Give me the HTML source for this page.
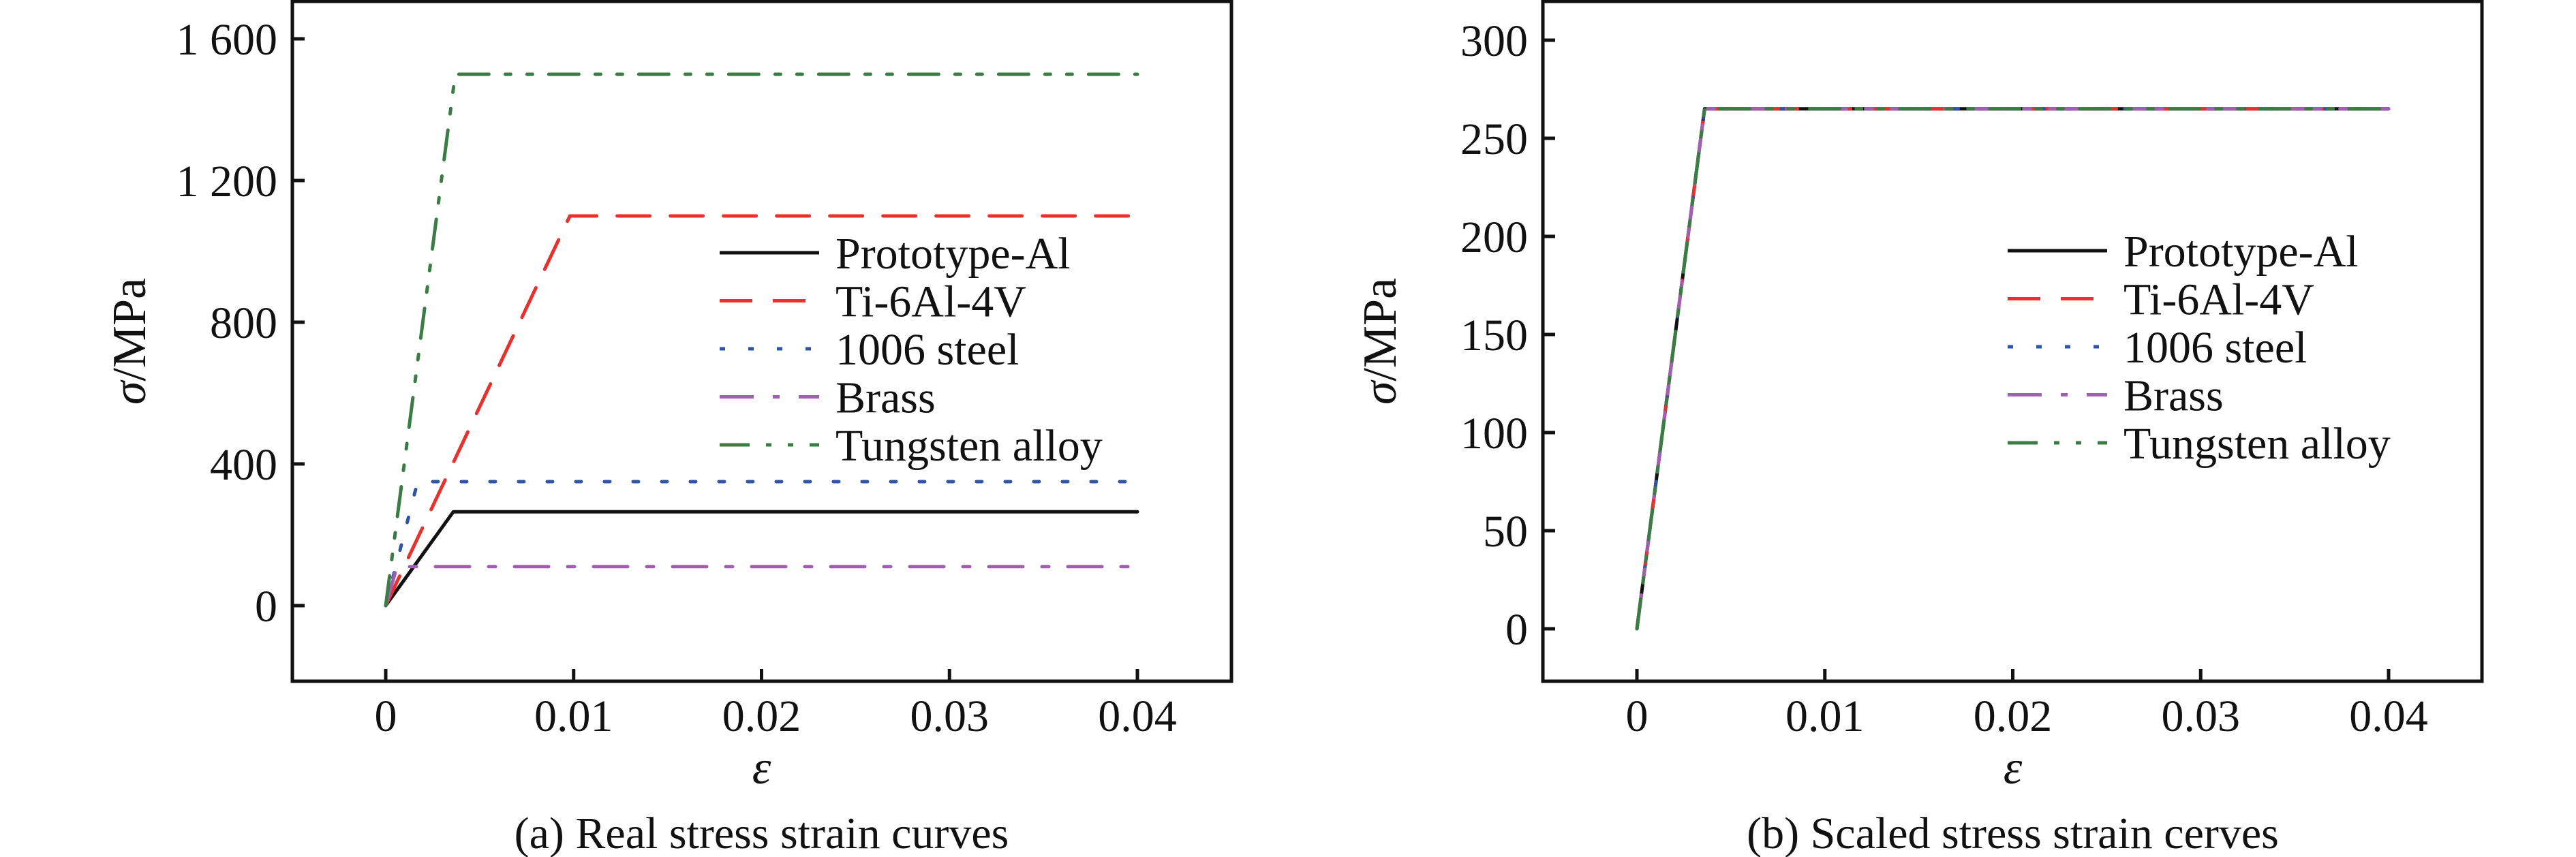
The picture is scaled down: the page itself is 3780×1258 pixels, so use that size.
<!DOCTYPE html>
<html><head><meta charset="utf-8"><style>
html,body{margin:0;padding:0;background:#fff;}
svg{display:block;}
text{font-family:"Liberation Serif",serif;fill:#111;}
</style></head><body>
<svg id="fig" width="3780" height="1258" viewBox="0 0 3780 1258" xmlns="http://www.w3.org/2000/svg"></svg>
<script>
// ---- data ----
const seriesNames = ["Prototype-Al","Ti-6Al-4V","1006 steel","Brass","Tungsten alloy"];
const seriesColors = ["#111111","#e8302c","#2e55a5","#a05fb0","#3a7d44"];
const seriesDash = ["", "48,30", "8,34", "50,28,10,28", "44,24,8,24,8,24"];
// real curves: [yield strain, yield stress, end strain]
const realYieldStrain = [0.0036, 0.0098, 0.0017, 0.0006, 0.0037];
const realYieldStress = [265, 1100, 350, 110, 1500];
const realEndStrain = [0.04, 0.04, 0.04, 0.0396, 0.04];
// scaled curves
const scaledYieldStrain = [0.0036, 0.0036, 0.0036, 0.0036, 0.0036];
const scaledYieldStress = [265, 265, 265, 265, 265];
const scaledEndStrain = [0.04, 0.04, 0.04, 0.04, 0.04];
const xTicks = [0, 0.01, 0.02, 0.03, 0.04];
const xTickLabels = ["0","0.01","0.02","0.03","0.04"];
const yTicksA = [0, 400, 800, 1200, 1600];
const yTickLabelsA = ["0","400","800","1 200","1 600"];
const yTicksB = [0, 50, 100, 150, 200, 250, 300];
const yTickLabelsB = ["0","50","100","150","200","250","300"];

const NS = "http://www.w3.org/2000/svg";
const svg = document.getElementById("fig");
function mk(tag, attrs, parent){
  const e = document.createElementNS(NS, tag);
  for (const k in attrs) e.setAttribute(k, attrs[k]);
  (parent||svg).appendChild(e);
  return e;
}

function panel(cfg){
  const g = mk("g", {});
  
  
  const X = v => cfg.x0 + (v - 0) / 0.04 * (cfg.x4 - cfg.x0);
  const Y = v => cfg.y0 - v / cfg.ymax * (cfg.y0 - cfg.ytop);
  const fr = mk("rect", {x:cfg.L, y:cfg.T, width:cfg.R-cfg.L, height:cfg.B-cfg.T, fill:"none", stroke:"#111", "stroke-width":5}, g);
  
  
  xTicks.forEach((t,i)=>{
    const tk = mk("line", {x1:X(t), x2:X(t), y1:cfg.B, y2:cfg.B-18, stroke:"#111","stroke-width":5}, g);
    
    
    const tl = mk("text", {x:X(t), y:1073, "text-anchor":"middle", "font-size":66}, g);
    tl.textContent = xTickLabels[i];
    
    
  });
  cfg.yt.forEach((t,i)=>{
    const tk = mk("line", {x1:cfg.L, x2:cfg.L+18, y1:Y(t), y2:Y(t), stroke:"#111","stroke-width":5}, g);
    
    
    const tl = mk("text", {x:cfg.L-22, y:Y(t)+23, "text-anchor":"end", "font-size":66}, g);
    tl.textContent = cfg.ytl[i];
    
    
  });
  seriesNames.forEach((n,i)=>{
    const d = `M${X(0)},${Y(0)} L${X(cfg.ys[i])},${Y(cfg.ss[i])} L${X(cfg.es[i])},${Y(cfg.ss[i])}`;
    const p = mk("path", {d:d, fill:"none", stroke:seriesColors[i], "stroke-width":5, "stroke-dasharray":seriesDash[i]||"none", "stroke-linecap":"round", "stroke-linejoin":"round"}, g);
    
    
  });
  const lg = mk("g", {}, g);
  
  
  seriesNames.forEach((n,i)=>{
    const yy = cfg.legY + i*70.5;
    const ln = mk("line", {x1:cfg.legX, x2:cfg.legX+146, y1:yy, y2:yy, stroke:seriesColors[i], "stroke-width":5, "stroke-dasharray":seriesDash[i]||"none"}, lg);
    
    
    const tx = mk("text", {x:cfg.legX+170, y:yy+23, "font-size":66}, lg);
    tx.textContent = n;
    
    
  });
  const yl = mk("text", {x:0, y:0, "text-anchor":"middle", "font-size":70, transform:`translate(${cfg.L-216},${(cfg.T+cfg.B)/2}) rotate(-90)`}, g);
  yl.innerHTML = '<tspan font-style="italic">σ</tspan>/MPa';
  
  
  const xl = mk("text", {x:(cfg.x0+cfg.x4)/2, y:1150, "text-anchor":"middle", "font-size":70, "font-style":"italic"}, g);
  xl.textContent = "ε";
  
  
  const cp = mk("text", {x:(cfg.x0+cfg.x4)/2, y:1245, "text-anchor":"middle", "font-size":66}, g);
  cp.textContent = cfg.caption;
  
  
}

panel({name:"panel-a-real", L:429, R:1807, T:2, B:1000, x0:566, x4:1669, y0:889, ytop:57, ymax:1600,
  yt:yTicksA, ytl:yTickLabelsA, ys:realYieldStrain, ss:realYieldStress, es:realEndStrain,
  legX:1056, legY:371, caption:"(a) Real stress strain curves"});
panel({name:"panel-b-scaled", L:2264, R:3642, T:2, B:1000, x0:2402, x4:3505, y0:923, ytop:59, ymax:300,
  yt:yTicksB, ytl:yTickLabelsB, ys:scaledYieldStrain, ss:scaledYieldStress, es:scaledEndStrain,
  legX:2946, legY:368, caption:"(b) Scaled stress strain cerves"});
</script>
</body></html>
